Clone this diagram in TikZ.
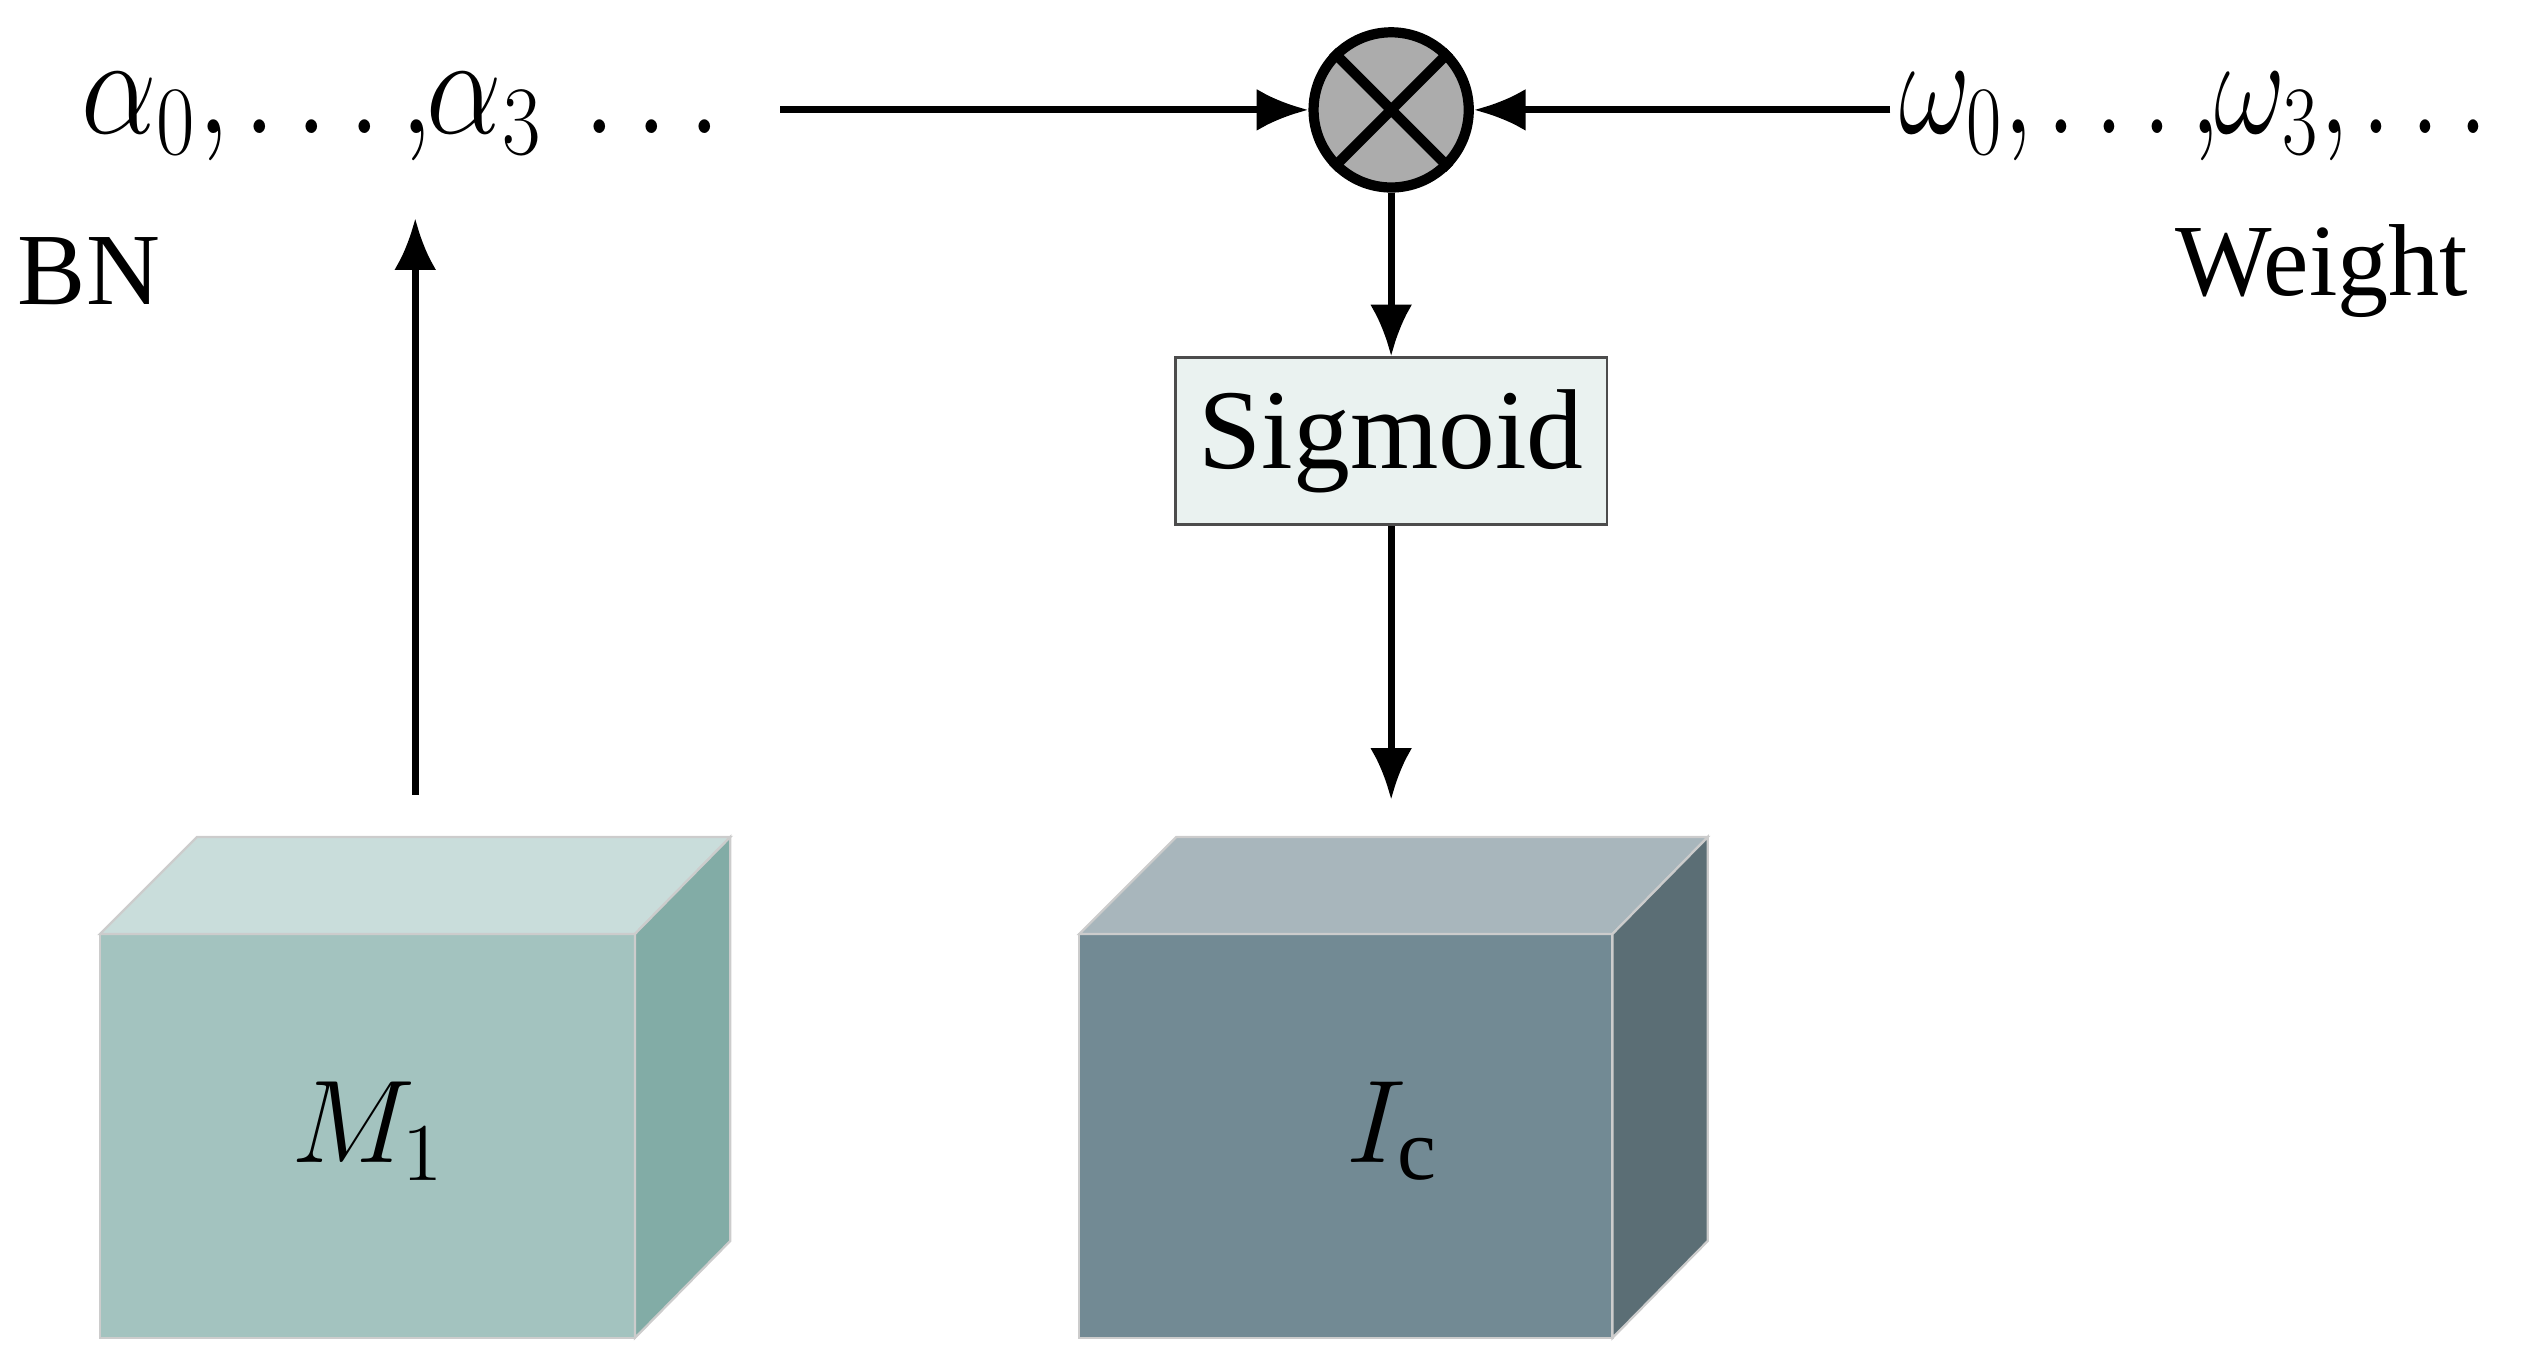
\documentclass[tikz,border=0pt]{standalone}
\usepackage{fontspec}
\setmainfont{Liberation Serif}
\usetikzlibrary{arrows.meta}
\definecolor{mfront}{HTML}{A3C3BF}
\definecolor{mtop}{HTML}{C9DDDB}
\definecolor{mside}{HTML}{82ACA6}
\definecolor{ifront}{HTML}{728A94}
\definecolor{itop}{HTML}{A8B6BC}
\definecolor{iside}{HTML}{5B6E75}
\definecolor{sigfill}{HTML}{EAF2F0}
\newcommand{\cm}{{,}\mkern-1mu}
\tikzset{
  arr/.style={line width=1.2pt, -{Latex[length=0.32cm,width=0.26cm]}},
  lbl/.style={font=\fontsize{18}{21}\selectfont, inner sep=0},
  seq/.style={font=\fontsize{24}{28}\selectfont, inner sep=0, anchor=west},
  face/.style={draw=gray!40, line width=0.4pt}
}
\begin{document}
\begin{tikzpicture}[x=0.01cm,y=-0.01cm]
\useasboundingbox (0,0) rectangle (1564,844);
% cubes
\filldraw[face, fill=mfront] (62,578) rectangle (393,828);
\filldraw[face, fill=mtop] (62,578) -- (122,518) -- (452,518) -- (393,578) -- cycle;
\filldraw[face, fill=mside] (393,578) -- (452,518) -- (452,768) -- (393,828) -- cycle;
\node[lbl, font=\fontsize{22}{26}\selectfont] (m1) at (228,700) {$M_1$};
\filldraw[face, fill=ifront] (668,578) rectangle (998,828);
\filldraw[face, fill=itop] (668,578) -- (728,518) -- (1057,518) -- (998,578) -- cycle;
\filldraw[face, fill=iside] (998,578) -- (1057,518) -- (1057,768) -- (998,828) -- cycle;
\node[lbl, font=\fontsize{22}{26}\selectfont] (ic) at (862,700) {$I_{\mathrm{c}}$};
\coordinate (mtopc) at (257,492);
\coordinate (itopc) at (861,495);
% sequences
\node[seq, xscale=0.85] (alpha) at (50,72) {$\alpha_0\cm\ldots\cm\alpha_3\,\ldots$};
\node[seq, xscale=0.78] (omega) at (1175,72) {$\omega_0\cm\ldots\cm\omega_3\cm\ldots$};
\coordinate (aend) at (483,68);
\coordinate (oend) at (1170,68);
\coordinate (aup) at (257,135);
\node[lbl] (bn) at (55,168) {BN};
\node[lbl] (wt) at (1437,168) {Weight};
% multiplier
\node[circle, draw, line width=1.8pt, fill=gray!65, minimum size=0.96cm, inner sep=0] (mul) at (861,68) {};
\draw[line width=1.8pt] (mul.north west) -- (mul.south east) (mul.north east) -- (mul.south west);
% sigmoid
\node[draw=black!70, line width=0.5pt, fill=sigfill, minimum width=2.67cm, minimum height=1.03cm, inner xsep=0, font=\fontsize{20}{24}\selectfont] (sig) at (861,273) {Sigmoid};
% arrows
\draw[arr] (aend) -- (mul);
\draw[arr] (oend) -- (mul);
\draw[arr] (mtopc) -- (aup);
\draw[arr] (mul) -- (sig);
\draw[arr] (sig) -- (itopc);
\end{tikzpicture}
\end{document}
